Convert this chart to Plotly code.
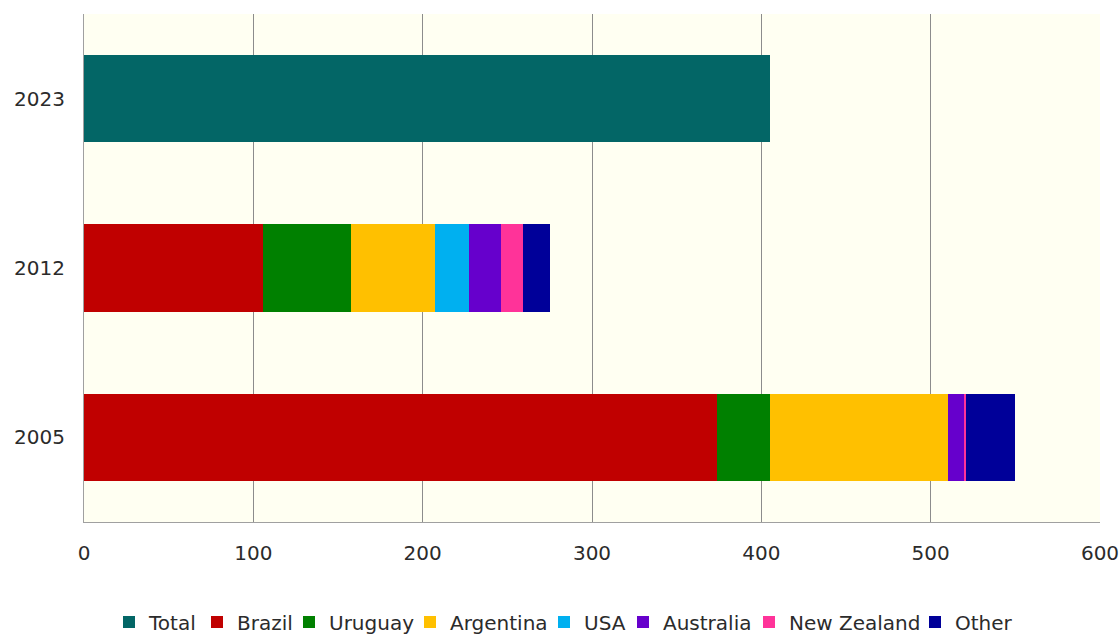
import plotly.graph_objects as go

# Years shown on the category axis (bottom to top)
years = ["2005", "2012", "2023"]

# Total for the latest year
total_2023 = 405

# Contributions by origin for 2005 and 2012
brazil = [374, 105.5]
uruguay = [31, 52]
argentina = [105.5, 49.5]
usa = [0, 20.5]
australia = [9.5, 19]
new_zealand = [1, 12.5]
other = [29, 16]

series = [
    ("Brazil", brazil, "#C00000"),
    ("Uruguay", uruguay, "#008000"),
    ("Argentina", argentina, "#FFC000"),
    ("USA", usa, "#00B0F0"),
    ("Australia", australia, "#6600CC"),
    ("New Zealand", new_zealand, "#FF3399"),
    ("Other", other, "#000099"),
]

# Left edge (px) of each legend entry's label along the bottom row
legend_text_px = [149, 237, 329, 450, 584, 663, 789, 955]

PLOT_LEFT, PLOT_RIGHT, PLOT_TOP, PLOT_BOTTOM = 84, 1100, 14, 522
W, H = 1120, 637
plot_w = PLOT_RIGHT - PLOT_LEFT
plot_h = PLOT_BOTTOM - PLOT_TOP

legend_names = ["legend"] + [f"legend{i}" for i in range(2, 9)]

fig = go.Figure()
fig.add_trace(go.Bar(
    name="Total", y=[years[2]], x=[total_2023], orientation="h",
    marker=dict(color="#036666", line=dict(width=0)),
    legend=legend_names[0],
))
for k, (name, vals, color) in enumerate(series, start=1):
    fig.add_trace(go.Bar(
        name=name, y=years[:2], x=vals, orientation="h",
        marker=dict(color=color, line=dict(width=0)),
        legend=legend_names[k],
    ))

font_family = "DejaVu Sans, Verdana, sans-serif"
text_color = "#2B2B2B"

legend_y = (PLOT_BOTTOM - 622) / plot_h
legend_layouts = {}
for lname, tx in zip(legend_names, legend_text_px):
    legend_layouts[lname] = dict(
        orientation="h",
        x=(tx - 40 - PLOT_LEFT) / plot_w, xanchor="left",
        y=legend_y, yanchor="middle",
        font=dict(size=20, color=text_color),
        itemwidth=30, bgcolor="rgba(0,0,0,0)",
    )

fig.update_layout(
    barmode="stack",
    bargap=0.486,
    width=W,
    height=H,
    margin=dict(l=PLOT_LEFT, r=W - PLOT_RIGHT, t=PLOT_TOP, b=H - PLOT_BOTTOM,
                autoexpand=False),
    paper_bgcolor="white",
    plot_bgcolor="#FFFFF2",
    font=dict(family=font_family, size=20, color=text_color),
    showlegend=True,
    xaxis=dict(
        range=[0, 600], tickvals=[0, 100, 200, 300, 400, 500, 600],
        showgrid=True, gridcolor="#8C8C8C", gridwidth=1,
        showline=True, linecolor="#A0A0A0", linewidth=1,
        zeroline=False, ticks="", ticklabelstandoff=13,
        tickfont=dict(size=20, color=text_color), automargin=False,
    ),
    yaxis=dict(
        type="category", categoryorder="array", categoryarray=years,
        range=[-0.5, 2.5],
        showgrid=False, showline=True, linecolor="#A0A0A0", linewidth=1,
        zeroline=False, ticks="", ticklabelstandoff=14,
        tickfont=dict(size=20, color=text_color), automargin=False,
    ),
    **legend_layouts,
)

fig.write_html("out.html")
